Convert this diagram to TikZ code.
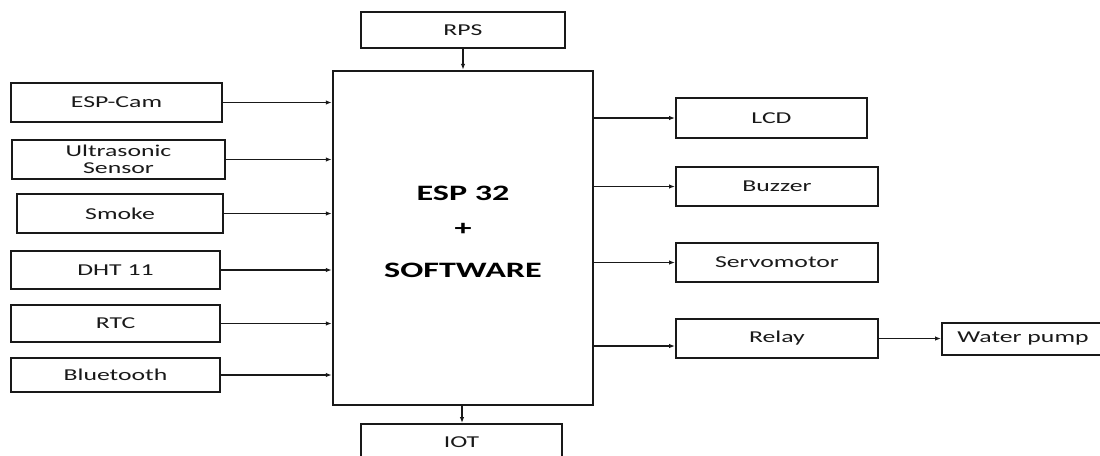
\documentclass[tikz,border=0pt]{standalone}
\usepackage{fontspec}
\setmainfont{Carlito}[FakeStretch=1.55]
\usetikzlibrary{arrows.meta}
\begin{document}
\begin{tikzpicture}[x=1pt,y=-1pt,
  box/.style={draw=black!90, line width=1.9pt, inner sep=0pt, align=center,
    font=\fontsize{16.6}{17.5}\selectfont, text=black!90},
  mainbox/.style={draw=black!90, line width=2.4pt, inner sep=0pt},
  arr/.style={-{Latex[length=6pt,width=4.5pt]}, line width=1.5pt, draw=black!90},
  big/.style={font=\fontsize{22}{24}\selectfont\bfseries, text=black}]
\clip (0,0) rectangle (1100,455);
\fill[white] (0,0) rectangle (1100,455);
% main block
\node[mainbox, minimum width=260pt, minimum height=334pt] (main) at (463,238) {};
\node[big] (t1) at (463,193) {ESP 32};
\node[big] (t2) at (463,229) {+};
\node[big] (t3) at (463,270) {SOFTWARE};
% top / bottom
\node[box, minimum width=204pt, minimum height=36pt] (rps) at (463,30) {RPS};
\node[box, minimum width=201pt, minimum height=36pt] (iot) at (461.5,442) {IOT};
% inputs
\node[box, minimum width=211pt, minimum height=39pt] (cam) at (116.5,102.5) {ESP-Cam};
\node[box, minimum width=213pt, minimum height=39pt] (ultra) at (118.5,159.5) {Ultrasonic\\Sensor};
\node[box, minimum width=206pt, minimum height=39pt] (smoke) at (120,213.5) {Smoke};
\node[box, minimum width=209pt, minimum height=38pt] (dht) at (115.5,270) {DHT 11};
\node[box, minimum width=209pt, minimum height=37pt] (rtc) at (115.5,323.5) {RTC};
\node[box, minimum width=209pt, minimum height=34pt] (bt) at (115.5,375) {Bluetooth};
% outputs
\node[box, minimum width=191pt, minimum height=40pt] (lcd) at (771.5,118) {LCD};
\node[box, minimum width=202pt, minimum height=39pt] (buzz) at (777,186.5) {Buzzer};
\node[box, minimum width=202pt, minimum height=39pt] (servo) at (777,262.5) {Servomotor};
\node[box, minimum width=202pt, minimum height=39pt] (relay) at (777,338.5) {Relay};
\node[box, minimum width=162pt, minimum height=32pt] (pump) at (1023,339) {Water pump};
\coordinate (rin) at (600,346);
% connectors
\draw[arr] (rps.south) -- (main.north);
\draw[arr] (main.south -| iot.north) ++(0.5,0) coordinate (mb) (mb) -- (mb |- iot.north);
\foreach \n in {cam,ultra,smoke,dht,rtc,bt}
  \draw[arr] (\n.east) -- (\n.east -| main.west);
\foreach \n in {lcd,buzz,servo}
  \draw[arr] (main.east |- \n.west) -- (\n.west);
\draw[arr] (main.east |- rin) -- (relay.west |- rin);
\draw[arr] (relay.east) -- (relay.east -| pump.west);
\end{tikzpicture}
\end{document}
